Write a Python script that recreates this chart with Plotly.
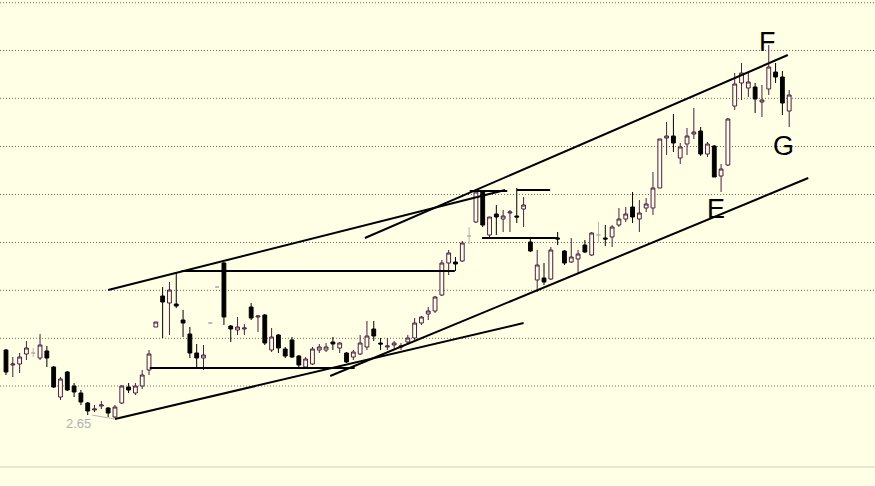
import plotly.graph_objects as go

# ---- candle data (price units) ----
opens = [2.99, 2.915, 2.92, 2.97, 2.975, 2.95, 2.985, 2.905, 2.755, 2.88,
         2.81, 2.775, 2.725, 2.69, 2.71, 2.7, 2.655, 2.725, 2.805, 2.775,
         2.81, 2.89, 3.105, 3.26, 3.225, 3.22, 3.14, 3.07, 2.975, 2.95,
         3.125, 3.305, 3.425, 3.11, 3.09, 3.095, 3.205, 3.155, 3.165, 2.99,
         3.065, 2.995, 3.04, 2.96, 2.905, 2.92, 2.99, 2.99, 3.03, 3.0,
         2.975, 2.955, 2.97, 3.005, 3.095, 3.025, 3.005, 3.015, 3.005, 3.03,
         3.05, 3.125, 3.17, 3.185, 3.265, 3.425, 3.43, 3.435, 3.56, 3.63,
         3.78, 3.565, 3.67, 3.645, 3.675, 3.66, 3.695, 3.53, 3.34, 3.35,
         3.345, 3.55, 3.485, 3.43, 3.445, 3.515, 3.465, 3.565, 3.55, 3.555,
         3.615, 3.645, 3.705, 3.645, 3.7, 3.7, 3.8, 4.05, 4.06, 3.95,
         4.02, 4.07, 4.085, 3.97, 4.01, 3.86, 3.915, 4.21, 4.325, 4.3,
         4.305, 4.23, 4.295, 4.38, 4.355, 4.185]
highs = [2.995, 2.955, 2.975, 3.035, 3.0, 3.07, 3.01, 2.91, 2.855, 2.885,
         2.825, 2.79, 2.73, 2.715, 2.735, 2.705, 2.715, 2.815, 2.825, 2.825,
         2.89, 2.99, 3.13, 3.305, 3.33, 3.38, 3.19, 3.105, 3.02, 3.015,
         3.13, 3.31, 3.43, 3.115, 3.155, 3.12, 3.225, 3.165, 3.17, 3.1,
         3.07, 3.005, 3.055, 2.965, 2.955, 3.005, 3.02, 3.025, 3.055, 3.03,
         2.98, 2.99, 3.065, 3.135, 3.135, 3.05, 3.05, 3.035, 3.025, 3.065,
         3.15, 3.16, 3.205, 3.26, 3.44, 3.49, 3.455, 3.535, 3.605, 3.79,
         3.79, 3.655, 3.715, 3.69, 3.69, 3.8, 3.755, 3.555, 3.49, 3.425,
         3.505, 3.58, 3.49, 3.55, 3.49, 3.54, 3.58, 3.63, 3.615, 3.615,
         3.7, 3.705, 3.78, 3.74, 3.75, 3.88, 4.045, 4.13, 4.17, 4.025,
         4.1, 4.2, 4.105, 4.03, 4.015, 3.92, 4.15, 4.375, 4.425, 4.375,
         4.325, 4.315, 4.515, 4.425, 4.385, 4.29]
lows = [2.865, 2.855, 2.875, 2.94, 2.955, 2.94, 2.905, 2.8, 2.74, 2.785,
        2.755, 2.715, 2.665, 2.68, 2.695, 2.655, 2.65, 2.72, 2.775, 2.765,
        2.795, 2.865, 3.105, 3.05, 3.065, 3.2, 3.055, 2.95, 2.895, 2.89,
        3.12, 3.3, 3.115, 3.03, 3.065, 3.065, 3.14, 3.08, 3.015, 2.98,
        2.975, 2.95, 2.95, 2.9, 2.9, 2.915, 2.975, 2.98, 2.99, 2.975,
        2.925, 2.94, 2.965, 2.99, 3.035, 2.99, 2.99, 2.99, 2.99, 3.015,
        3.04, 3.115, 3.14, 3.175, 3.26, 3.365, 3.385, 3.43, 3.52, 3.625,
        3.605, 3.55, 3.565, 3.58, 3.58, 3.625, 3.605, 3.48, 3.28, 3.315,
        3.34, 3.515, 3.415, 3.425, 3.37, 3.475, 3.46, 3.53, 3.51, 3.505,
        3.605, 3.63, 3.625, 3.58, 3.68, 3.665, 3.8, 3.965, 3.98, 3.92,
        3.965, 4.045, 3.96, 3.955, 3.855, 3.78, 3.91, 4.19, 4.24, 4.255,
        4.175, 4.155, 4.265, 4.325, 4.165, 4.105]
closes = [2.88, 2.92, 2.955, 3.0, 2.975, 3.015, 2.95, 2.805, 2.845, 2.79,
          2.78, 2.73, 2.685, 2.695, 2.715, 2.675, 2.705, 2.81, 2.79, 2.81,
          2.865, 2.97, 3.13, 3.23, 3.29, 3.21, 3.125, 2.975, 2.95, 2.965,
          3.125, 3.305, 3.155, 3.095, 3.105, 3.1, 3.15, 3.16, 3.025, 3.055,
          3.0, 2.96, 2.955, 2.915, 2.945, 2.995, 3.005, 3.005, 3.02, 3.025,
          2.93, 2.98, 3.025, 3.06, 3.06, 3.02, 3.01, 3.025, 3.01, 3.05,
          3.125, 3.155, 3.185, 3.255, 3.425, 3.475, 3.42, 3.525, 3.56, 3.78,
          3.615, 3.655, 3.655, 3.66, 3.68, 3.655, 3.715, 3.485, 3.415, 3.33,
          3.49, 3.545, 3.425, 3.455, 3.47, 3.48, 3.575, 3.565, 3.545, 3.605,
          3.645, 3.67, 3.655, 3.675, 3.72, 3.8, 4.045, 4.06, 4.025, 4.005,
          4.06, 4.08, 3.97, 4.02, 3.855, 3.895, 4.145, 4.32, 4.375, 4.33,
          4.245, 4.24, 4.405, 4.355, 4.225, 4.265]
grey_days = [4, 30, 31, 68, 87]

# ---- drawn lines: (x0, y0, x1, y1) in candle index / price ----
trend_lines = [
    (16.0, 2.645, 76.0, 3.125),    # lower support line
    (47.6, 2.86, 117.8, 3.85),     # channel bottom (E)
    (15.0, 3.29, 73.3, 3.79),      # early upper line
    (52.7, 3.55, 114.8, 4.465),    # channel top (F)
]
flat_lines = [
    (21.1, 2.90, 51.2, 2.90),
    (25.8, 3.385, 65.9, 3.385),
    (68.1, 3.785, 73.6, 3.785),
    (75.0, 3.79, 79.9, 3.79),
    (69.9, 3.55, 81.1, 3.55),
]
grid_levels = [2.81, 3.0485, 3.2885, 3.5275, 3.7675, 4.0075, 4.2485, 4.4875, 4.7265]
labels = [("F", 111.8, 4.53), ("G", 114.2, 4.01), ("E", 104.2, 3.695)]
low_label = ("2.65", 10.7, 2.625)

BG = "#ffffe6"
PURPLE = "#4e1d44"

n = len(opens)
idx = list(range(n))

def subset(sel):
    ii = [i for i in idx if sel(i)]
    return (ii, [opens[i] for i in ii], [highs[i] for i in ii],
            [lows[i] for i in ii], [closes[i] for i in ii])

groups = [
    (lambda i: i not in grey_days and closes[i] >= opens[i], PURPLE, BG),
    (lambda i: i not in grey_days and closes[i] < opens[i], "#000000", "#000000"),
    (lambda i: i in grey_days, "#b4b4b4", "#b4b4b4"),
]

fig = go.Figure()
for sel, lc, fc in groups:
    xs, o, h, l, c = subset(sel)
    style = dict(line=dict(color=lc, width=1), fillcolor=fc)
    fig.add_trace(go.Candlestick(x=xs, open=o, high=h, low=l, close=c,
                                 increasing=style, decreasing=style,
                                 whiskerwidth=0, showlegend=False, hoverinfo="skip"))

shapes = []
for g in grid_levels:
    shapes.append(dict(type="line", xref="paper", x0=0, x1=1, yref="y", y0=g, y1=g,
                       line=dict(color="#6e6e60", width=1, dash="1px,2px"), layer="below"))
shapes.append(dict(type="line", xref="paper", x0=0, x1=1, yref="y", y0=2.405, y1=2.405,
                   line=dict(color="#cfcfc0", width=1), layer="below"))
for x0, y0, x1, y1 in trend_lines + flat_lines:
    shapes.append(dict(type="line", xref="x", yref="y", x0=x0, y0=y0, x1=x1, y1=y1,
                       line=dict(color="#000000", width=2)))
shapes.append(dict(type="line", xref="x", yref="y", x0=12.6, y0=2.665, x1=16.0, y1=2.645,
                   line=dict(color="#b8b8b8", width=1)))

annotations = [dict(x=x, y=y, text=t, showarrow=False, xref="x", yref="y",
                    font=dict(family="Liberation Sans, Arial", size=27, color="#000000"))
               for t, x, y in labels]
annotations.append(dict(x=low_label[1], y=low_label[2], text=low_label[0], showarrow=False,
                        xref="x", yref="y",
                        font=dict(family="Liberation Sans, Arial", size=13, color="#b0b0b0")))

fig.update_layout(
    width=875, height=486,
    margin=dict(l=0, r=0, t=0, b=0),
    paper_bgcolor=BG, plot_bgcolor=BG,
    boxgap=0.2,
    shapes=shapes, annotations=annotations,
    xaxis=dict(range=[-0.88, 127.6], visible=False, rangeslider=dict(visible=False)),
    yaxis=dict(range=[2.31, 4.74], visible=False),
)
fig.write_html("out.html", config={"displayModeBar": False},
               post_script="document.body.style.margin='0';document.body.style.background='" + BG + "';")
